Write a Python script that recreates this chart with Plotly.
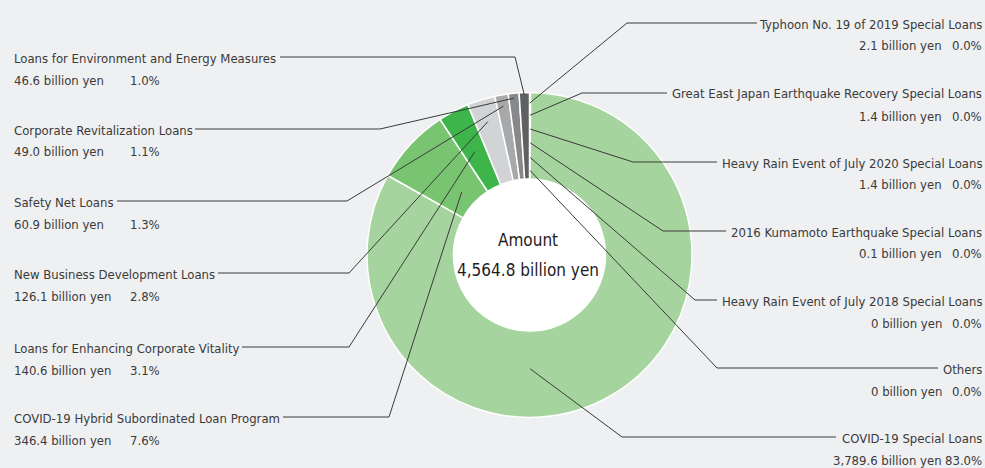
import math
import plotly.graph_objects as go

W, H = 985, 468

# Loan programs in drawing order (clockwise from 12 o'clock)
programs = [
    "Typhoon No. 19 of 2019 Special Loans",
    "Great East Japan Earthquake Recovery Special Loans",
    "Heavy Rain Event of July 2020 Special Loans",
    "2016 Kumamoto Earthquake Special Loans",
    "Heavy Rain Event of July 2018 Special Loans",
    "Others",
    "COVID-19 Special Loans",
    "COVID-19 Hybrid Subordinated Loan Program",
    "Loans for Enhancing Corporate Vitality",
    "New Business Development Loans",
    "Safety Net Loans",
    "Corporate Revitalization Loans",
    "Loans for Environment and Energy Measures",
]
amounts = [2.1, 1.4, 1.4, 0.1, 0, 0, 3789.6, 346.4, 140.6, 126.1, 60.9, 49.0, 46.6]  # billion yen
shares = [0.0, 0.0, 0.0, 0.0, 0.0, 0.0, 83.0, 7.6, 3.1, 2.8, 1.3, 1.1, 1.0]  # percent
total_amount = "4,564.8"

colors = ["#7d7e80"] * 6 + [
    "#a6d49e", "#79c470", "#3db54a", "#d2d3d5", "#a8a9ab", "#87888a", "#5f6062",
]

# Donut geometry (pixels)
CX, CY, R = 529.5, 255.0, 162.5
HOLE = 0.468

# Callout layout: label row, elbow of the leader, where the leader meets the text,
# radial position of the leader tip and its position along the slice
callouts = {
    programs[0]: dict(side="right", y=23, elbow=(627, 23), edge=757, r=0.935, f=0.5),
    programs[1]: dict(side="right", y=93, elbow=(582, 93), edge=667, r=0.86, f=0.5),
    programs[2]: dict(side="right", y=162, elbow=(633, 162), edge=717, r=0.775, f=0.5),
    programs[3]: dict(side="right", y=231, elbow=(663, 231), edge=726, r=0.69, f=0.5),
    programs[4]: dict(side="right", y=300, elbow=(695, 300), edge=717, r=0.60, f=0.5),
    programs[5]: dict(side="right", y=368, elbow=(717, 368), edge=938, r=0.52, f=0.5),
    programs[6]: dict(side="right", y=437, elbow=(622, 437), edge=836, r=0.70, f=0.6),
    programs[7]: dict(side="left", y=417, elbow=(389, 417), edge=283, r=0.57, f=0.5),
    programs[8]: dict(side="left", y=347, elbow=(349, 347), edge=242, r=0.72, f=0.5),
    programs[9]: dict(side="left", y=273, elbow=(349, 273), edge=218, r=0.86, f=0.5),
    programs[10]: dict(side="left", y=201, elbow=(347, 201), edge=117, r=0.93, f=0.5),
    programs[11]: dict(side="left", y=129, elbow=(380, 129), edge=195, r=0.97, f=0.5),
    programs[12]: dict(side="left", y=57, elbow=(515, 57), edge=280, r=0.985, f=0.5),
}

FONT = "DejaVu Sans Condensed, DejaVu Sans, sans-serif"
TEXT_COLOR = "#3a3a3a"
LINE_COLOR = "#3a3a3a"


def px(x):
    return x / W


def py(y):
    return 1 - y / H


def fmt_amount(v):
    return "0" if v == 0 else f"{v:,.1f}"


fig = go.Figure()
fig.add_trace(go.Pie(
    labels=programs,
    values=amounts,
    sort=False,
    direction="clockwise",
    rotation=0,
    hole=HOLE,
    textinfo="none",
    hoverinfo="label+value+percent",
    marker=dict(colors=colors, line=dict(color="#ffffff", width=1.5)),
    domain=dict(x=[px(CX - R), px(CX + R)], y=[py(CY + R), py(CY - R)]),
    showlegend=False,
))

shapes = [
    # white centre of the donut
    dict(type="circle", xref="paper", yref="paper", layer="below",
         x0=px(CX - R * HOLE - 1), x1=px(CX + R * HOLE + 1),
         y0=py(CY + R * HOLE + 1), y1=py(CY - R * HOLE - 1),
         fillcolor="#ffffff", line=dict(width=0)),
]
annotations = []

total = sum(amounts)
start = 0.0
for name, amount, share in zip(programs, amounts, shares):
    span = amount / total * 360.0
    c = callouts[name]
    theta = math.radians(start + span * c["f"])
    start += span
    tip_x = CX + c["r"] * R * math.sin(theta)
    tip_y = CY - c["r"] * R * math.cos(theta)
    ex, ey = c["elbow"]
    y = c["y"]
    path = (f"M {px(c['edge'])} {py(y)} L {px(ex)} {py(ey)} "
            f"L {px(tip_x)} {py(tip_y)}")
    shapes.append(dict(type="path", xref="paper", yref="paper", path=path,
                       line=dict(color=LINE_COLOR, width=1)))

    value_text = f"{fmt_amount(amount)} billion yen"
    pct_text = f"{share:.1f}%"
    if c["side"] == "left":
        items = [(name, 12, y + 1, "left"),
                 (value_text, 12, y + 23, "left"),
                 (pct_text, 128, y + 23, "left")]
    else:
        items = [(name, 984, y + 1, "right"),
                 (value_text, 944, y + 23, "right"),
                 (pct_text, 984, y + 23, "right")]
    for text, x, yy, anchor in items:
        annotations.append(dict(
            text=text, x=px(x), y=py(yy), xref="paper", yref="paper",
            xanchor=anchor, yanchor="middle", showarrow=False,
            font=dict(family=FONT, size=13, color=TEXT_COLOR),
        ))

# Total in the centre of the donut
annotations.append(dict(text="Amount", x=px(528), y=py(240), xref="paper", yref="paper",
                        xanchor="center", yanchor="middle", showarrow=False,
                        font=dict(family=FONT, size=17, color="#1f1c1d")))
annotations.append(dict(text=f"{total_amount} billion yen", x=px(528), y=py(270),
                        xref="paper", yref="paper", xanchor="center", yanchor="middle",
                        showarrow=False, font=dict(family=FONT, size=17, color="#1f1c1d")))

fig.update_layout(
    width=W, height=H, autosize=False,
    margin=dict(l=0, r=0, t=0, b=0),
    paper_bgcolor="#eff0f2",
    plot_bgcolor="#eff0f2",
    shapes=shapes,
    annotations=annotations,
)

fig.write_html("out.html", config={"displayModeBar": False})
